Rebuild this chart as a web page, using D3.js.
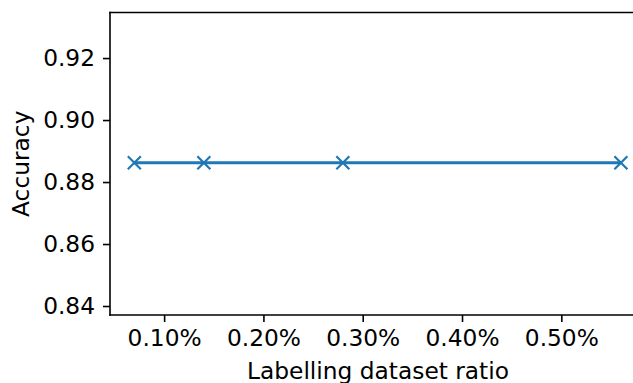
<!DOCTYPE html>
<html><head><meta charset="utf-8">
<script src="https://cdn.jsdelivr.net/npm/d3@7/dist/d3.min.js"></script>
<style>body{margin:0;background:#fff}svg{display:block;font-family:"DejaVu Sans",sans-serif}</style>
</head><body><svg id="c" width="633" height="383"></svg>
<script>
const ratios = [0.07, 0.14, 0.28, 0.56];
const accuracy = [0.8862, 0.8862, 0.8862, 0.8862];
const xTicks = [0.1, 0.2, 0.3, 0.4, 0.5];
const yTicks = [0.84, 0.86, 0.88, 0.90, 0.92];

const svg = d3.select("#c");
const L = 110, T = 12.5, B = 315;
const FS = 23.3;
const x = d3.scaleLinear().domain([0.0455, 0.5845]).range([L, L + (0.5845-0.0455)*993]);
const y = d3.scaleLinear().domain([0.8371, 0.9347]).range([B, T]);
const col = "#1f77b4";

const gx = svg.append("g").attr("transform", `translate(0,${B})`)
  .call(d3.axisBottom(x).tickValues(xTicks).tickFormat(d => d.toFixed(2) + "%").tickSizeOuter(0).tickSize(7).tickPadding(7));
const gy = svg.append("g").attr("transform", `translate(${L},0)`)
  .call(d3.axisLeft(y).tickValues(yTicks).tickFormat(d3.format(".2f")).tickSizeOuter(0).tickSize(7).tickPadding(8));
[gx, gy].forEach(g => {
  g.select(".domain").remove();
  g.selectAll("line").attr("stroke", "#000").attr("stroke-width", 1.6);
  g.selectAll("text").attr("fill", "#000").attr("font-size", FS).attr("font-family", "DejaVu Sans");
});
// spines
svg.append("line").attr("x1", L).attr("x2", L).attr("y1", T).attr("y2", B).attr("stroke", "#000").attr("stroke-width", 1.6).attr("stroke-linecap","square");
svg.append("line").attr("x1", L).attr("x2", x.range()[1]).attr("y1", B).attr("y2", B).attr("stroke", "#000").attr("stroke-width", 1.6).attr("stroke-linecap","square");
svg.append("line").attr("x1", L).attr("x2", x.range()[1]).attr("y1", T).attr("y2", T).attr("stroke", "#000").attr("stroke-width", 1.6).attr("stroke-linecap","square");

const data = ratios.map((r, i) => [r, accuracy[i]]);
svg.append("path").datum(data)
  .attr("d", d3.line().x(d => x(d[0])).y(d => y(d[1])))
  .attr("fill", "none").attr("stroke", col).attr("stroke-width", 3);
const s = 6.5;
svg.selectAll(".m").data(data).enter().append("path")
  .attr("d", d => { const cx = x(d[0]), cy = y(d[1]); return `M${cx-s},${cy-s}L${cx+s},${cy+s}M${cx-s},${cy+s}L${cx+s},${cy-s}`; })
  .attr("stroke", col).attr("stroke-width", 2.2).attr("fill", "none");

svg.append("text").attr("x", 378).attr("y", 379).attr("text-anchor", "middle")
  .attr("font-size", FS).text("Labelling dataset ratio");
svg.append("text").attr("transform", `translate(29,${(T+B)/2}) rotate(-90)`).attr("text-anchor", "middle")
  .attr("font-size", FS).text("Accuracy");
</script></body></html>
